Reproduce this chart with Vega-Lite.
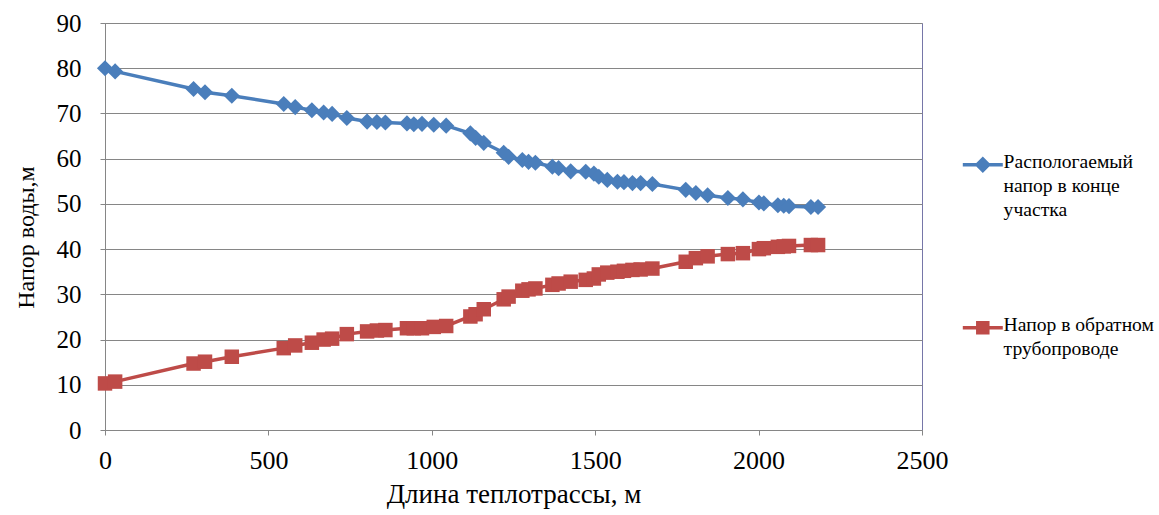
{
  "$schema": "https://vega.github.io/schema/vega-lite/v6.json",
  "width": 817,
  "height": 407,
  "autosize": "none",
  "padding": {"left": 105, "top": 23, "right": 237, "bottom": 85},
  "background": "white",
  "config": {
    "font": "Liberation Serif",
    "view": {"stroke": "#7676a8", "strokeWidth": 1},
    "axis": {"labelFont": "Liberation Serif", "titleFont": "Liberation Serif"},
    "legend": {"labelFont": "Liberation Serif"}
  },
  "datasets": {
    "blue": [
      {"d": 0, "h": 80.0}, {"d": 31, "h": 79.3}, {"d": 271, "h": 75.4}, {"d": 306, "h": 74.7},
      {"d": 388, "h": 73.9}, {"d": 547, "h": 72.1}, {"d": 582, "h": 71.4}, {"d": 633, "h": 70.7},
      {"d": 669, "h": 70.2}, {"d": 695, "h": 69.9}, {"d": 740, "h": 69.0}, {"d": 802, "h": 68.2},
      {"d": 832, "h": 68.1}, {"d": 858, "h": 68.0}, {"d": 924, "h": 67.8}, {"d": 945, "h": 67.6},
      {"d": 970, "h": 67.7}, {"d": 1006, "h": 67.5}, {"d": 1044, "h": 67.3}, {"d": 1118, "h": 65.6},
      {"d": 1134, "h": 64.6}, {"d": 1159, "h": 63.5}, {"d": 1220, "h": 61.3}, {"d": 1235, "h": 60.4},
      {"d": 1277, "h": 59.7}, {"d": 1296, "h": 59.3}, {"d": 1317, "h": 59.1}, {"d": 1369, "h": 58.2},
      {"d": 1388, "h": 57.9}, {"d": 1425, "h": 57.2}, {"d": 1471, "h": 57.1}, {"d": 1496, "h": 56.7},
      {"d": 1511, "h": 56.0}, {"d": 1537, "h": 55.3}, {"d": 1568, "h": 54.9}, {"d": 1588, "h": 54.8},
      {"d": 1614, "h": 54.6}, {"d": 1639, "h": 54.6}, {"d": 1675, "h": 54.4}, {"d": 1777, "h": 53.1},
      {"d": 1808, "h": 52.4}, {"d": 1844, "h": 51.9}, {"d": 1906, "h": 51.3}, {"d": 1952, "h": 51.0},
      {"d": 2001, "h": 50.3}, {"d": 2016, "h": 50.1}, {"d": 2059, "h": 49.7}, {"d": 2077, "h": 49.6},
      {"d": 2093, "h": 49.5}, {"d": 2160, "h": 49.3}, {"d": 2182, "h": 49.3}
    ],
    "red": [
      {"d": 0, "h": 10.3}, {"d": 31, "h": 10.7}, {"d": 271, "h": 14.7}, {"d": 306, "h": 15.1},
      {"d": 388, "h": 16.2}, {"d": 547, "h": 18.1}, {"d": 582, "h": 18.7}, {"d": 633, "h": 19.3},
      {"d": 669, "h": 20.0}, {"d": 695, "h": 20.2}, {"d": 740, "h": 21.2}, {"d": 802, "h": 21.8},
      {"d": 832, "h": 22.0}, {"d": 858, "h": 22.1}, {"d": 924, "h": 22.5}, {"d": 945, "h": 22.5},
      {"d": 970, "h": 22.5}, {"d": 1006, "h": 22.8}, {"d": 1044, "h": 23.0}, {"d": 1118, "h": 25.1},
      {"d": 1134, "h": 25.6}, {"d": 1159, "h": 26.7}, {"d": 1220, "h": 28.9}, {"d": 1235, "h": 29.5},
      {"d": 1277, "h": 30.8}, {"d": 1296, "h": 31.1}, {"d": 1317, "h": 31.3}, {"d": 1369, "h": 32.1},
      {"d": 1388, "h": 32.4}, {"d": 1425, "h": 32.8}, {"d": 1471, "h": 33.2}, {"d": 1496, "h": 33.5},
      {"d": 1511, "h": 34.4}, {"d": 1537, "h": 34.8}, {"d": 1568, "h": 35.0}, {"d": 1588, "h": 35.2},
      {"d": 1614, "h": 35.4}, {"d": 1639, "h": 35.5}, {"d": 1675, "h": 35.7}, {"d": 1777, "h": 37.2},
      {"d": 1808, "h": 38.0}, {"d": 1844, "h": 38.4}, {"d": 1906, "h": 38.9}, {"d": 1952, "h": 39.1},
      {"d": 2001, "h": 40.0}, {"d": 2016, "h": 40.2}, {"d": 2059, "h": 40.5}, {"d": 2077, "h": 40.6},
      {"d": 2093, "h": 40.7}, {"d": 2160, "h": 40.9}, {"d": 2182, "h": 40.9}
    ]
  },
  "encoding": {
    "x": {
      "field": "d", "type": "quantitative",
      "scale": {"domain": [0, 2500], "nice": false, "zero": false},
      "axis": {
        "title": "Длина теплотрассы, м",
        "values": [0, 500, 1000, 1500, 2000, 2500],
        "format": "d",
        "grid": false,
        "domainColor": "#868686", "tickColor": "#868686", "tickSize": 5,
        "labelFontSize": 26, "labelColor": "#000000", "labelPadding": 12,
        "labelFlush": false, "labelOverlap": false,
        "titleFontSize": 27, "titleFontWeight": "normal", "titleColor": "#000000", "titlePadding": 8
      }
    },
    "y": {
      "field": "h", "type": "quantitative",
      "scale": {"domain": [0, 90], "nice": false},
      "axis": {
        "title": "Напор воды,м",
        "values": [0, 10, 20, 30, 40, 50, 60, 70, 80, 90],
        "grid": true, "gridColor": "#868686", "gridWidth": 1,
        "domainColor": "#868686", "tickColor": "#868686", "tickSize": 5,
        "labelFontSize": 25, "labelColor": "#000000", "labelPadding": 19,
        "labelFlush": false, "labelOverlap": false,
        "titleFontSize": 24, "titleFontWeight": "normal", "titleColor": "#000000", "titlePadding": 18,
        "titleY": 214
      }
    },
    "color": {
      "field": "s", "type": "nominal",
      "scale": {
        "domain": ["Распологаемый напор в конце участка", "Напор в обратном трубопроводе"],
        "range": ["#4a7ebb", "#be4b48"]
      },
      "legend": {
        "title": null,
        "orient": "none",
        "legendX": 868,
        "legendY": 132,
        "padding": 0,
        "symbolSize": 100,
        "symbolStrokeWidth": 3.5,
        "labelFont": "Liberation Serif",
        "labelFontSize": 19.6,
        "labelLineHeight": 24,
        "labelColor": "#000000",
        "labelLimit": 300,
        "labelOffset": 11,
        "labelBaseline": "top",
        "rowPadding": 94,
        "labelExpr": "datum.label == 'Напор в обратном трубопроводе' ? ['Напор в обратном', 'трубопроводе'] : ['Распологаемый', 'напор в конце', 'участка']",
        "encode": {
          "symbols": {
            "update": {
              "shape": {"signal": "datum.value == 'Напор в обратном трубопроводе' ? 'M-4,0H4M-1,-1H1V1H-1Z' : 'M-4,0H4M0,-1.15L1.15,0L0,1.15L-1.15,0Z'"},
              "fill": {"signal": "datum.value == 'Напор в обратном трубопроводе' ? '#be4b48' : '#4a7ebb'"},
              "stroke": {"signal": "datum.value == 'Напор в обратном трубопроводе' ? '#be4b48' : '#4a7ebb'"},
              "strokeWidth": {"value": 3.5},
              "opacity": {"value": 1},
              "fillOpacity": {"value": 1},
              "strokeOpacity": {"value": 1}
            }
          },
          "labels": {"update": {"dy": {"value": -12}, "lineHeight": {"value": 24}}}
        }
      }
    }
  },
  "layer": [
    {
      "data": {"name": "blue"},
      "transform": [{"calculate": "'Распологаемый напор в конце участка'", "as": "s"}],
      "mark": {"type": "line", "strokeWidth": 3.5},
      "encoding": {}
    },
    {
      "data": {"name": "red"},
      "transform": [{"calculate": "'Напор в обратном трубопроводе'", "as": "s"}],
      "mark": {"type": "line", "strokeWidth": 3.5},
      "encoding": {}
    },
    {
      "data": {"name": "blue"},
      "transform": [{"calculate": "'Распологаемый напор в конце участка'", "as": "s"}],
      "mark": {"type": "point", "filled": true, "opacity": 1, "shape": "diamond", "size": 260},
      "encoding": {}
    },
    {
      "data": {"name": "red"},
      "transform": [{"calculate": "'Напор в обратном трубопроводе'", "as": "s"}],
      "mark": {"type": "point", "filled": true, "opacity": 1, "shape": "square", "size": 210},
      "encoding": {}
    }
  ]
}
